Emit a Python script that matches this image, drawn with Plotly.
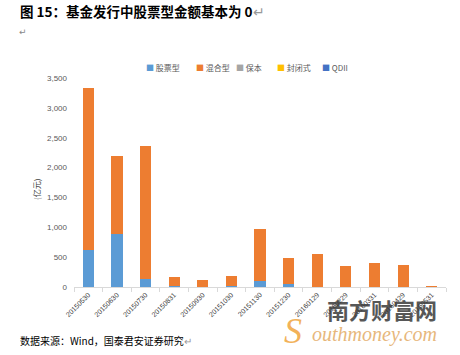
import plotly.graph_objects as go

categories = ["20150530", "20150630", "20150730", "20150831", "20150930", "20151030",
              "20151130", "20151230", "20160129", "20160229", "20160331", "20160429", "20160531"]
stock = [620, 893, 129, 20, 5, 10, 95, 55, 5, 0, 0, 0, 0]
mixed = [2708, 1297, 2228, 142, 107, 180, 877, 425, 543, 352, 402, 374, 10]
guaranteed = [0, 0, 0, 0, 0, 0, 0, 0, 0, 0, 0, 0, 0]
closed = [0, 0, 0, 0, 0, 0, 0, 0, 0, 0, 0, 0, 0]
qdii = [0, 0, 0, 0, 0, 0, 0, 0, 0, 0, 0, 0, 0]
series_names = ["股票型", "混合型", "保本", "封闭式", "QDII"]
colors = ["#5B9BD5", "#ED7D31", "#A5A5A5", "#FFC000", "#4472C4"]
y_ticks = [0, 500, 1000, 1500, 2000, 2500, 3000, 3500]

W, H = 460, 355
L, R, T, B = 74, 14, 78, 68
pw, ph = W - L - R, H - T - B


def px(x):
    return (x - L) / pw


def py(y):
    return (H - B - y) / ph


fig = go.Figure()
for name, vals, c in zip(series_names, [stock, mixed, guaranteed, closed, qdii], colors):
    fig.add_trace(go.Bar(x=categories, y=vals, name=name, marker_color=c,
                         marker_line_width=0, showlegend=False))

ann = []
# title
ann.append(dict(x=px(18), y=py(11), xref="paper", yref="paper", xanchor="left", yanchor="middle",
                text="<b>图 15：基金发行中股票型金额基本为 0</b><span style='color:#999'>↵</span>",
                showarrow=False, font=dict(family="Noto Sans CJK SC", size=13.5, color="#000")))
ann.append(dict(x=px(17), y=py(32), xref="paper", yref="paper", xanchor="left", yanchor="middle",
                text="↵", showarrow=False, font=dict(family="DejaVu Sans", size=9, color="#888")))
# footer
ann.append(dict(x=px(18), y=py(340), xref="paper", yref="paper", xanchor="left", yanchor="middle",
                text="数据来源：Wind，国泰君安证券研究<span style='color:#999'>↵</span>",
                showarrow=False, font=dict(family="Noto Sans CJK SC", size=10, color="#000")))
# y title
ann.append(dict(x=px(36), y=py(190), xref="paper", yref="paper", xanchor="center", yanchor="middle",
                text="(亿元)", textangle=-90, showarrow=False,
                font=dict(family="Noto Sans CJK SC", size=8, color="#404040")))
# legend
leg_x = [144, 194, 234, 275, 320]
for name, c, lx in zip(series_names, colors, leg_x):
    ann.append(dict(x=px(lx), y=py(67), xref="paper", yref="paper", xanchor="left", yanchor="middle",
                    text=f"<span style='color:{c}'>■</span> {name}", showarrow=False,
                    font=dict(family="Noto Sans CJK SC", size=8, color="#595959")))
# watermark
ann.append(dict(x=px(382), y=py(309), xref="paper", yref="paper", xanchor="center", yanchor="middle",
                text="<b>南方财富网</b>", showarrow=False, opacity=0.85,
                font=dict(family="Noto Sans CJK SC", size=22, color="#3a3a3a")))
ann.append(dict(x=px(304), y=py(331), xref="paper", yref="paper", xanchor="right", yanchor="middle",
                text="<i>S</i>", showarrow=False, opacity=0.8,
                font=dict(family="Liberation Serif", size=36, color="#F0A030")))
ann.append(dict(x=px(374), y=py(334), xref="paper", yref="paper", xanchor="center", yanchor="middle",
                text="<i>outhmoney.com</i>", showarrow=False, opacity=0.75,
                font=dict(family="Liberation Serif", size=20, color="#E0A050")))

fig.update_layout(
    width=W, height=H, margin=dict(l=L, r=R, t=T, b=B),
    paper_bgcolor="white", plot_bgcolor="white",
    barmode="stack", bargap=0.61,
    annotations=ann,
    xaxis=dict(type="category", tickangle=-45, tickfont=dict(family="Arial", size=7, color="#404040"),
               showline=True, linecolor="#D9D9D9", linewidth=1, ticks="outside", ticklen=4,
               tickcolor="#D9D9D9", tickson="boundaries", showgrid=False),
    yaxis=dict(range=[0, 3500], tickvals=y_ticks, tickformat=",", showgrid=False, zeroline=False,
               showline=False, tickfont=dict(family="Arial", size=8, color="#595959"), ticklabelstandoff=6),
    font=dict(family="Arial"),
)

fig.write_html("out.html", config={"displayModeBar": False},
               post_script="document.body.style.margin='0';")
